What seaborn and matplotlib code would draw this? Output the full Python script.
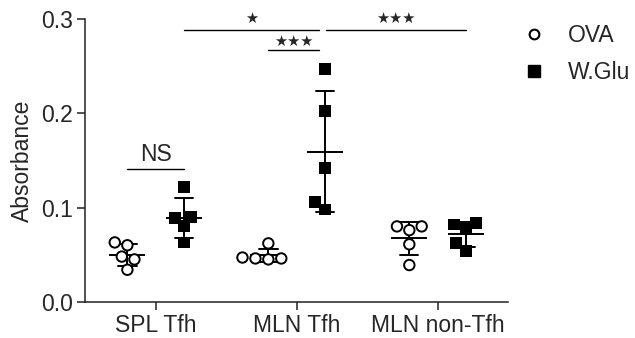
import pandas as pd
import seaborn as sns
import numpy as np
import matplotlib.pyplot as plt
from matplotlib.lines import Line2D

# values
cells = ['SPL Tfh', 'MLN Tfh', 'MLN non-Tfh']
groups = ['OVA', 'W.Glu']
spl_ova = [0.063, 0.060, 0.048, 0.045, 0.034]
spl_wglu = [0.122, 0.090, 0.089, 0.080, 0.063]
mln_ova = [0.062, 0.046, 0.045, 0.046, 0.047]
mln_wglu = [0.247, 0.202, 0.142, 0.106, 0.098]
non_ova = [0.080, 0.076, 0.080, 0.061, 0.039]
non_wglu = [0.082, 0.084, 0.077, 0.062, 0.054]
yticks = [0.0, 0.1, 0.2, 0.3]

# significance brackets: label, (cell, group) start, (cell, group) end, height
sig_labels = ['NS', '★', '★★★', '★★★']
sig_start = [(0, 0), (0, 1), (1, 0), (1, 1)]
sig_end = [(0, 1), (1, 1), (1, 1), (2, 1)]
sig_height = [0.141, 0.288, 0.267, 0.288]

rows = []
for cell, ova, wglu in zip(cells, [spl_ova, mln_ova, non_ova], [spl_wglu, mln_wglu, non_wglu]):
    rows += [(cell, 'OVA', v) for v in ova]
    rows += [(cell, 'W.Glu', v) for v in wglu]
df = pd.DataFrame(rows, columns=['cell', 'group', 'value'])

sns.set_style('ticks')
plt.rcParams['font.family'] = ['Liberation Sans', 'DejaVu Sans']
plt.rcParams['font.size'] = 16.5

fig, ax = plt.subplots(figsize=(6.35, 3.38), dpi=100)
fig.subplots_adjust(left=0.134, right=0.8, bottom=0.107, top=0.944)

off = 0.2
markers = {'OVA': 'o', 'W.Glu': 's'}
sizes = {'OVA': 7.5, 'W.Glu': 8.5}
for g in groups:
    sns.swarmplot(data=df[df.group == g], x='cell', y='value', hue='group',
                  order=cells, hue_order=groups, dodge=True,
                  palette={'OVA': 'white', 'W.Glu': 'black'}, marker=markers[g],
                  size=sizes[g], edgecolor='black', linewidth=1.4 if g == 'OVA' else 0,
                  legend=False, ax=ax)

# mean +/- SD
sns.pointplot(data=df, x='cell', y='value', hue='group', order=cells, hue_order=groups,
              dodge=2 * off, errorbar='sd', capsize=0.13, markers='_', linestyles='none',
              palette={'OVA': 'black', 'W.Glu': 'black'}, markersize=26,
              markeredgewidth=1.4, err_kws={'linewidth': 1.4}, legend=False, ax=ax)

def xpos(c, g):
    return c + (-off if g == 0 else off)

for lab, s, e, h in zip(sig_labels, sig_start, sig_end, sig_height):
    x1, x2 = xpos(*s), xpos(*e)
    if e == (1, 1):
        x2 -= 0.04
    if s == (1, 1):
        x1 += 0.01
    ax.plot([x1, x2], [h, h], color='black', lw=1.0, clip_on=False)
    if lab == 'NS':
        ax.annotate(lab, ((x1 + x2) / 2, h), xytext=(0, 6), textcoords='offset points',
                    ha='center', va='baseline', fontsize=16.5, annotation_clip=False)
    else:
        dy = 6 if h < 0.28 else 8.5
        ax.annotate(lab, ((x1 + x2) / 2, h), xytext=(0, dy), textcoords='offset points',
                    ha='center', va='center', fontsize=10.5, family='DejaVu Sans',
                    annotation_clip=False)

ax.set_xlim(-0.5, 2.5)
ax.set_ylim(0, 0.3)
ax.set_yticks(yticks)
ax.set_yticklabels([f'{t:.1f}' for t in yticks])
ax.set_xlabel('')
ax.set_ylabel('Absorbance', fontsize=16.5, labelpad=5)
ax.tick_params(length=6, width=1.1, color='#222222', labelsize=16.5, pad=3)
for sp in ['left', 'bottom']:
    ax.spines[sp].set_linewidth(1.1)
    ax.spines[sp].set_color('#222222')
sns.despine(ax=ax)

handles = [Line2D([], [], marker='o', ls='none', mfc='white', mec='black', mew=1.5, ms=7),
           Line2D([], [], marker='s', ls='none', mfc='black', mec='black', ms=8)]
ax.legend(handles, groups, loc='upper left', bbox_to_anchor=(0.985, 1.055), frameon=False,
          handlelength=1, handletextpad=1.0, labelspacing=0.6, fontsize=16.5)

plt.savefig('out.png', dpi=100)
